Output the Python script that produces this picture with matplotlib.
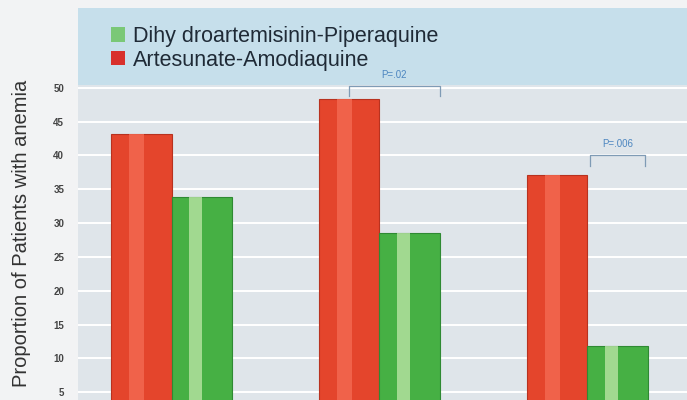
import matplotlib.pyplot as plt
import numpy as np
from matplotlib.patches import Patch

groups = ["Group 1", "Group 2", "Group 3"]
dhp_values = [33.9, 28.6, 11.8]   # Dihydroartemisinin-Piperaquine
asaq_values = [43.2, 48.3, 37.1]  # Artesunate-Amodiaquine
legend_labels = ["Dihy droartemisinin-Piperaquine", "Artesunate-Amodiaquine"]
yticks = [5, 10, 15, 20, 25, 30, 35, 40, 45, 50]
pvals = ["P=.02", "P=.006"]
ylabel = "Proportion of Patients with anemia"

plt.rcParams['font.family'] = ['Liberation Sans', 'DejaVu Sans']

fig = plt.figure(figsize=(6.87, 4.0), dpi=100)
fig.patch.set_facecolor('#f2f3f4')
ax = fig.add_axes([78/687, 0.0, 1 - 78/687, 1 - 8/400])
ax.set_facecolor('#dfe5ea')

x = np.arange(len(groups))
w = 0.29
ax.set_xlim(-0.45, 2.48)
ax.set_ylim(3.85, 61.8)

# blue header band
ax.axhspan(50.45, 61.8, color='#c6dfeb', zorder=0.5, lw=0)

for t in yticks:
    ax.axhline(t, color='white', lw=1.4, zorder=0.8)

red_x = x - w / 2
green_x = x + w / 2
ax.bar(red_x, asaq_values, w, color='#e4452c', edgecolor='#b8321f', lw=0.8, zorder=2)
ax.bar(red_x - w * 0.08, asaq_values, w * 0.25, color='#f46a52', lw=0, zorder=2.1, alpha=0.8)
ax.bar(green_x, dhp_values, w, color='#46b044', edgecolor='#2f8a33', lw=0.8, zorder=2)
ax.bar(green_x - w * 0.1, dhp_values, w * 0.22, color='#b9e4a4', lw=0, zorder=2.1, alpha=0.8)

# p-value brackets
brackets = [(red_x[1], green_x[1] + w / 2, 50.3, 48.8), (red_x[2] + w * 0.55, green_x[2] + w / 2 - 0.01, 40.1, 38.4)]
for (x0, x1, yt, yb), p in zip(brackets, pvals):
    ax.plot([x0, x0, x1, x1], [yb, yt, yt, yb], color='#7f9bb5', lw=0.9, zorder=3)
    ax.text((x0 + x1) / 2, yt + 0.8, p, ha='center', va='bottom', fontsize=7, color='#4d86c0', zorder=3)

ax.set_yticks(yticks)
ax.set_yticklabels([str(t) for t in yticks], fontsize=7, color='#444444', fontweight='bold')
ax.tick_params(axis='y', length=0, pad=10)
ax.set_xticks([])
for s in ax.spines.values():
    s.set_visible(False)

handles = [Patch(facecolor='#7ac877', edgecolor='none'), Patch(facecolor='#d8302b', edgecolor='none')]
fig.legend(handles, legend_labels, loc='upper left', bbox_to_anchor=(111/687, 1 - 26/400),
           frameon=False, fontsize=15.5, handlelength=0.65, handleheight=0.65, handletextpad=0.35,
           labelspacing=0.12, borderaxespad=0, borderpad=0, labelcolor='#1f2a36')

fig.text(22/687, 1 - 80/400, ylabel, rotation=90, ha='center', va='top', fontsize=14.5, color='#333333')

fig.savefig('out.png', dpi=100)
